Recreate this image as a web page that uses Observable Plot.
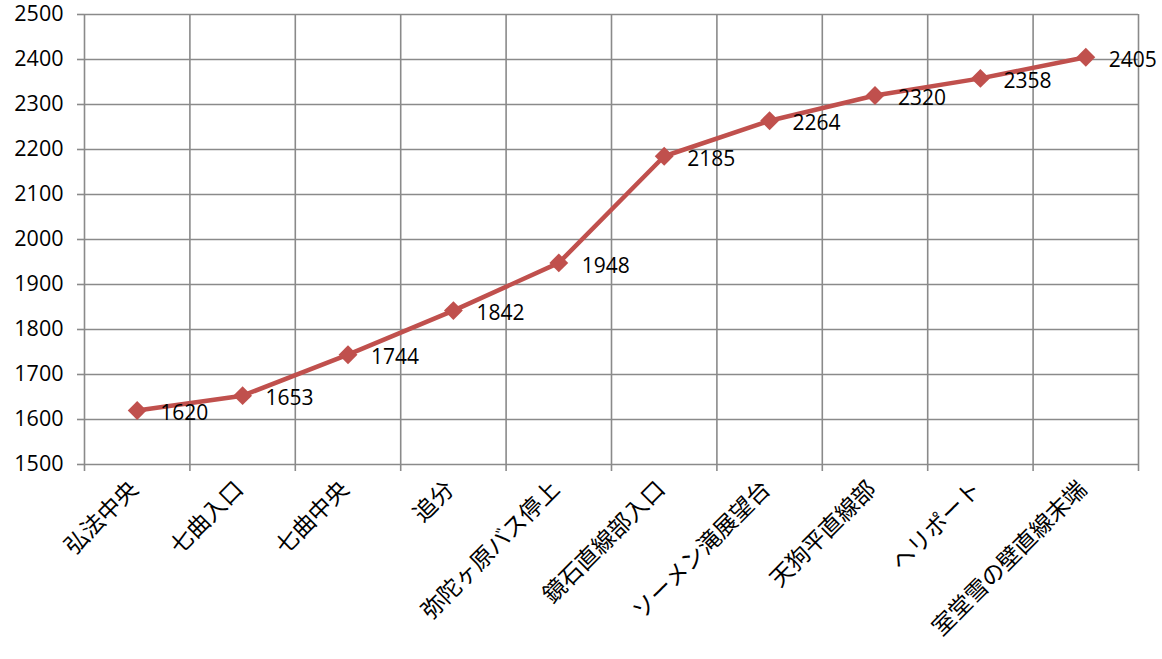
<!DOCTYPE html>
<html><head><meta charset="utf-8">
<script src="https://cdn.jsdelivr.net/npm/d3@7"></script>
<script src="https://cdn.jsdelivr.net/npm/@observablehq/plot@0.6"></script>
<style>body{margin:0;background:#fff}</style>
</head><body><div id="chart"></div>
<script>
const categories = ["弘法中央","七曲入口","七曲中央","追分","弥陀ヶ原バス停上","鏡石直線部入口","ソーメン滝展望台","天狗平直線部","ヘリポート","室堂雪の壁直線末端"];
const elevations = [1620,1653,1744,1842,1948,2185,2264,2320,2358,2405];
const yTicks = [1500,1600,1700,1800,1900,2000,2100,2200,2300,2400,2500];

const data = categories.map((c,i)=>({name:c, idx:i+0.5, v:elevations[i]}));
const grid = "#8a8a8a";
const numFont = "'Open Sans', sans-serif";
const jpFont = "'Noto Sans CJK JP', sans-serif";
const edges = d3.range(0, categories.length + 1);

const chart = Plot.plot({
  width: 1162, height: 659,
  marginLeft: 84, marginRight: 24, marginTop: 14, marginBottom: 195,
  style: {fontFamily: numFont, background: "#fff"},
  x: {type: "linear", domain: [0, categories.length], axis: null},
  y: {type: "linear", domain: [1500, 2500], axis: null},
  marks: [
    Plot.ruleY(yTicks, {stroke: grid, strokeWidth: 1.6}),
    Plot.ruleX(edges, {stroke: grid, strokeWidth: 1.6}),
    Plot.ruleX(edges, {y1: 1500, y2: 1500, insetBottom: -7, stroke: grid, strokeWidth: 1.6}),
    Plot.axisY({ticks: yTicks, tickSize: 7, tickPadding: 14, stroke: grid, strokeWidth: 1.6, strokeOpacity: 1, fontSize: 21.5, fill: "#000", tickFormat: d=>String(d), label: null}),
    Plot.text(data, {x: "idx", y: () => 1500, text: "name", rotate: -45, textAnchor: "end", dx: -3, dy: 21, fontSize: 23, fontFamily: jpFont, fill: "#000"}),
    Plot.line(data, {x: "idx", y: "v", stroke: "#C0504D", strokeWidth: 4.5}),
    Plot.dot(data, {x: "idx", y: "v", symbol: "diamond2", r: 8.5, fill: "#C0504D", stroke: "none"}),
    Plot.text(data, {x: "idx", y: "v", text: d=>String(d.v), textAnchor: "start", dx: 23, dy: 3, fontSize: 21, fill: "#000"})
  ]
});
document.getElementById("chart").append(chart);
</script></body></html>
